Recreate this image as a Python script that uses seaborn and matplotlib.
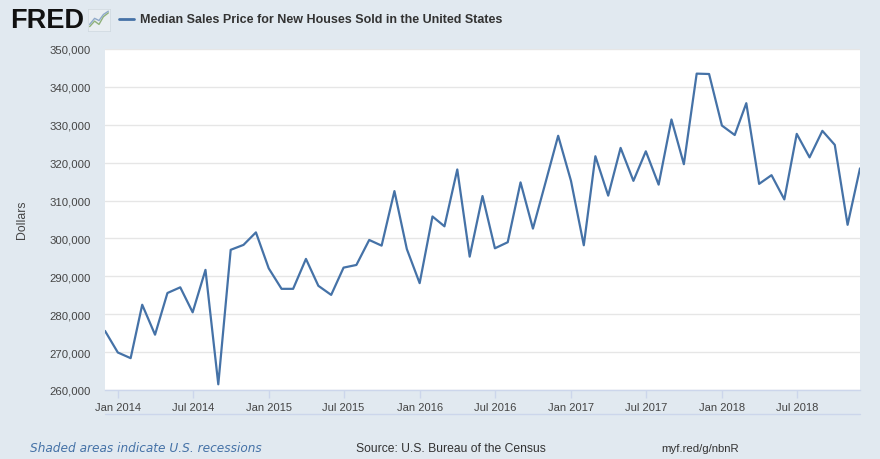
import matplotlib
matplotlib.use("Agg")
import matplotlib.pyplot as plt
import matplotlib.ticker as mticker
from matplotlib.lines import Line2D
import numpy as np
import pandas as pd
import seaborn as sns

# ---------------- data ----------------
months = list(pd.date_range("2013-12-01", "2018-12-01", freq="MS"))
prices = [
    275600,                                                    # Dec 2013
    269900, 268400, 282500, 274600, 285600, 287100,            # 2014 H1
    280500, 291700, 261500, 297000, 298300, 301600,            # 2014 H2
    292100, 286700, 286700, 294600, 287500, 285100,            # 2015 H1
    292300, 293000, 299600, 298100, 312500, 297200,            # 2015 H2
    288200, 305800, 303200, 318200, 295200, 311200,            # 2016 H1
    297400, 299000, 314800, 302600, 315000, 327100,            # 2016 H2
    315200, 298200, 321700, 311300, 323900, 315200,            # 2017 H1
    323000, 314200, 331400, 319600, 343500, 343400,            # 2017 H2
    329800, 327300, 335700, 314400, 316700, 310300,            # 2018 H1
    327600, 321400, 328400, 324700, 303600, 318500,            # 2018 H2
]
x_tick_dates = list(pd.date_range("2014-01-01", "2018-07-01", freq="6MS"))
x_tick_labels = ["Jan 2014", "Jul 2014", "Jan 2015", "Jul 2015", "Jan 2016",
                 "Jul 2016", "Jan 2017", "Jul 2017", "Jan 2018", "Jul 2018"]
y_ticks = [260000, 270000, 280000, 290000, 300000, 310000, 320000,
           330000, 340000, 350000]

title = "Median Sales Price for New Houses Sold in the United States"
y_label = "Dollars"
note_left = "Shaded areas indicate U.S. recessions"
note_mid = "Source: U.S. Bureau of the Census"
note_right = "myf.red/g/nbnR"

# ---------------- style ----------------
sns.set_theme(style="white")
plt.rcParams["font.family"] = ["Liberation Sans", "DejaVu Sans"]

BG = "#e1e9f0"
LINE = "#4572a7"
GRID = "#e6e6e6"
AXC = "#ccd6eb"
TXT = "#333333"

W, H = 880, 460
fig = plt.figure(figsize=(W / 100, H / 100), dpi=100, facecolor=BG)

def fx(px):
    return px / W

def fy(py):
    return 1 - py / H

left, right, top, bottom = 105, 860, 50, 391
ax = fig.add_axes([fx(left), fy(bottom), (right - left) / W, (bottom - top) / H])
ax.set_facecolor("white")

df = pd.DataFrame({"date": months, "price": prices})
sns.lineplot(data=df, x="date", y="price", ax=ax, color=LINE, linewidth=1.6)

ax.set_xlim(months[0], months[-1])
ax.set_ylim(y_ticks[0], y_ticks[-1])
ax.set_yticks(y_ticks)
ax.yaxis.set_major_formatter(mticker.FuncFormatter(lambda v, p: f"{int(v):,}"))
ax.set_xticks(x_tick_dates)
ax.set_xticklabels(x_tick_labels)

ax.grid(axis="y", color=GRID, linewidth=1)
ax.grid(axis="x", visible=False)
for s in ["top", "right", "left"]:
    ax.spines[s].set_visible(False)
ax.spines["bottom"].set_color(AXC)
ax.spines["bottom"].set_linewidth(1)

ax.tick_params(axis="y", length=0, pad=10.5, labelsize=8.2, labelcolor="#444444")
ax.tick_params(axis="x", length=6, width=1, color=AXC, pad=3,
               labelsize=8.0, labelcolor="#444444", bottom=True)
ax.set_xlabel("")
ax.set_ylabel("")

fig.text(fx(22), fy(220), y_label, rotation=90, ha="center", va="center",
         fontsize=8.8, color="#444444")

# header
fig.text(fx(10), fy(21), "FRED", fontsize=19.5, fontweight="bold",
         ha="left", va="center", color="#111111")
icon = fig.add_axes([fx(88), fy(32), 22 / W, 22 / H])
icon.set_facecolor("#e9eef2")
icon.set_xlim(0, 4)
icon.set_ylim(0, 4)
icon.plot([0.3, 1.2, 2.0, 2.8, 3.7], [0.8, 1.8, 1.2, 2.6, 3.3], color="#8fb17a", lw=1)
icon.plot([0.3, 1.2, 2.0, 2.8, 3.7], [1.2, 2.3, 1.9, 3.0, 3.6], color="#8fa9c9", lw=1)
icon.set_xticks([])
icon.set_yticks([])
for s in icon.spines.values():
    s.set_color("#cfd8df")
    s.set_linewidth(0.5)

fig.add_artist(Line2D([fx(119), fx(134)], [fy(20), fy(20)], color=LINE, lw=2))
fig.text(fx(140), fy(20), title, fontsize=9.0, fontweight="bold",
         ha="left", va="center", color=TXT)

# navigator-like line
fig.add_artist(Line2D([fx(105), fx(860)], [fy(415), fy(415)], color=AXC, lw=1))

# footer
fig.text(fx(30), fy(449), note_left, fontsize=8.7, style="italic",
         family=["DejaVu Sans"], ha="left", va="center", color=LINE)
fig.text(fx(356), fy(449), note_mid, fontsize=8.7, ha="left", va="center",
         color=TXT)
fig.text(fx(661), fy(449), note_right, fontsize=8.2, ha="left", va="center",
         color=TXT)

fig.savefig("out.png", dpi=100, facecolor=BG)
